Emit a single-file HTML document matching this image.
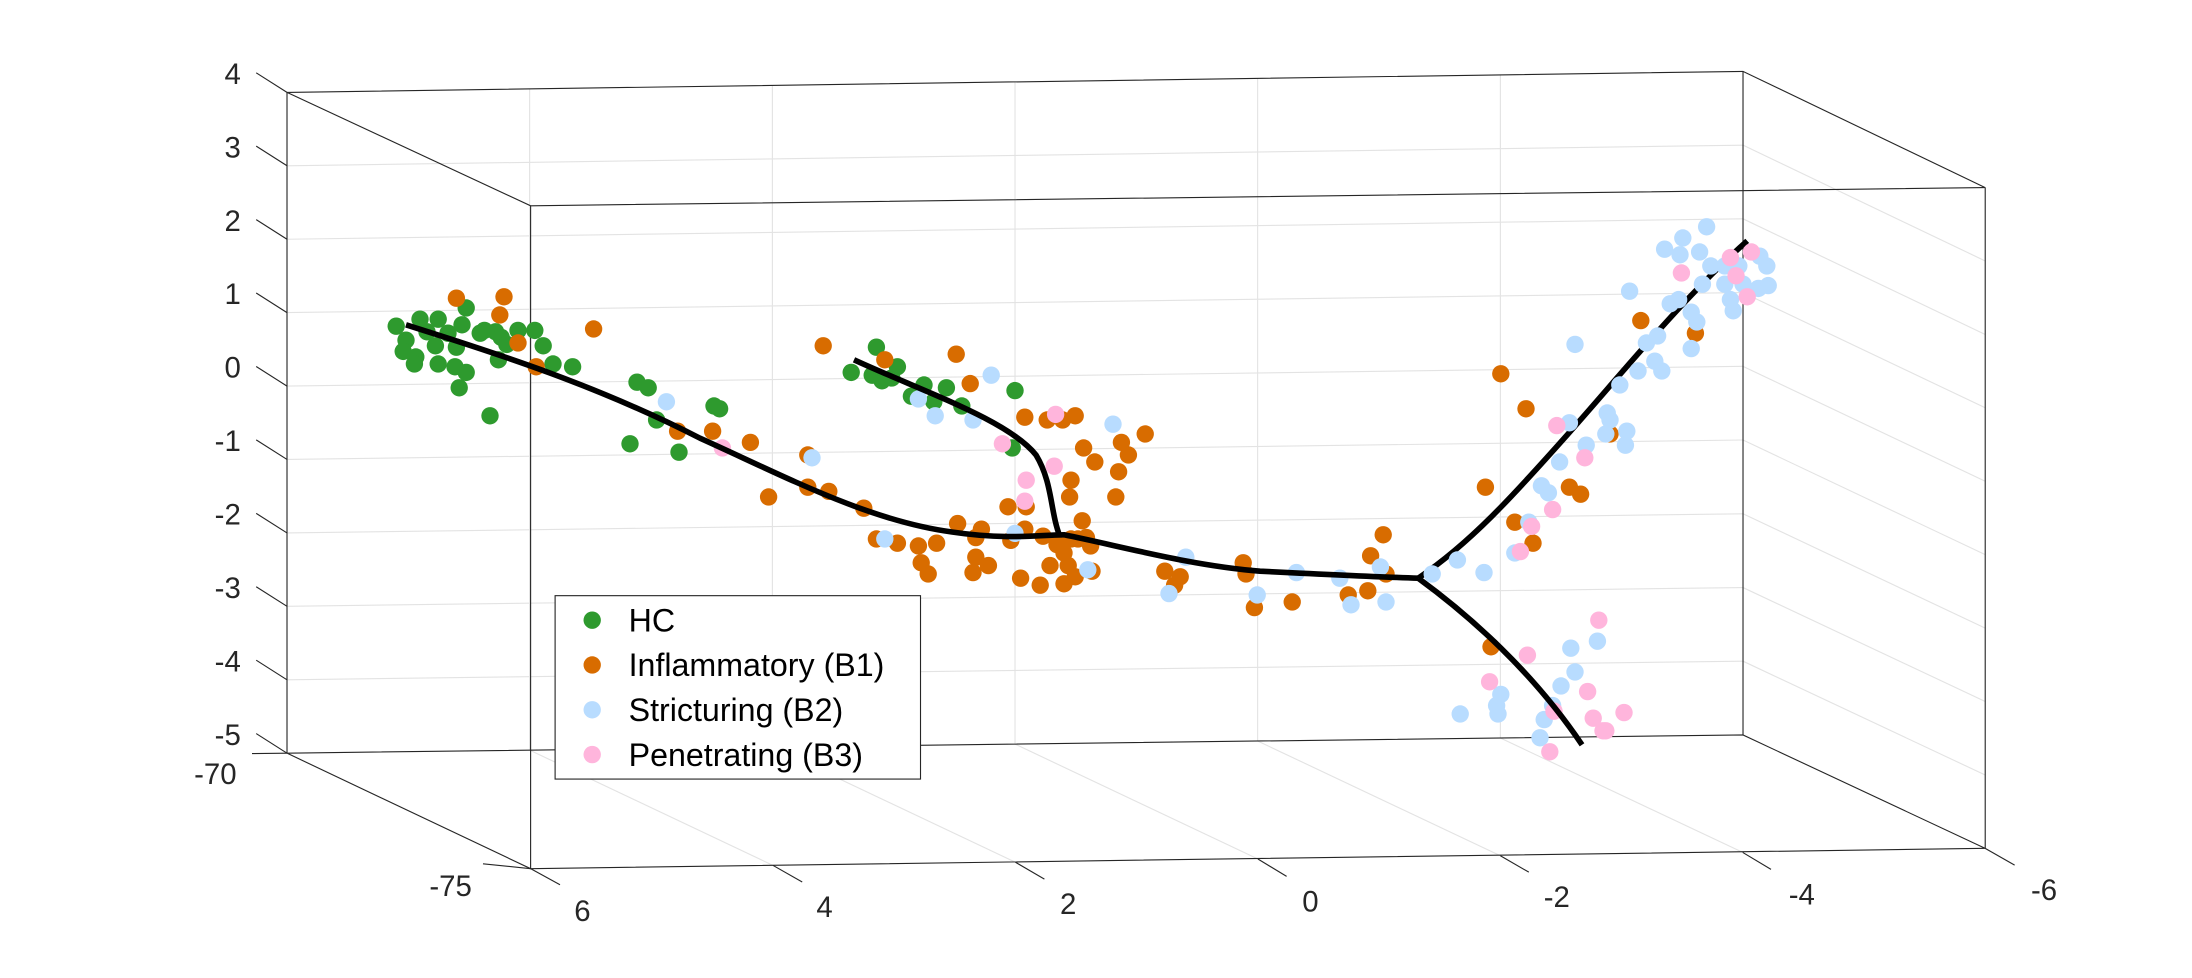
<!DOCTYPE html>
<html><head><meta charset="utf-8"><style>
html,body{margin:0;padding:0;background:#fff;}
svg{display:block}
text{font-family:"Liberation Sans",Arial,sans-serif;fill:#262626}
</style></head><body>
<svg width="2192" height="978" viewBox="0 0 1565.7 698.6" preserveAspectRatio="none" xmlns="http://www.w3.org/2000/svg">
<rect width="1565.7" height="698.6" fill="#fff"/>
<g stroke="#e3e3e3" stroke-width="0.8" fill="none">
<line x1="205" y1="118.4" x2="1245" y2="103.7"/>
<line x1="205" y1="170.9" x2="1245" y2="156.3"/>
<line x1="205" y1="223.3" x2="1245" y2="209"/>
<line x1="205" y1="275.8" x2="1245" y2="261.7"/>
<line x1="205" y1="328.2" x2="1245" y2="314.3"/>
<line x1="205" y1="380.7" x2="1245" y2="367"/>
<line x1="205" y1="433.1" x2="1245" y2="419.7"/>
<line x1="205" y1="485.6" x2="1245" y2="472.3"/>
<line x1="1245" y1="103.7" x2="1418" y2="186.4"/>
<line x1="1245" y1="156.3" x2="1418" y2="238.9"/>
<line x1="1245" y1="209" x2="1418" y2="291.3"/>
<line x1="1245" y1="261.7" x2="1418" y2="343.8"/>
<line x1="1245" y1="314.3" x2="1418" y2="396.2"/>
<line x1="1245" y1="367" x2="1418" y2="448.7"/>
<line x1="1245" y1="419.7" x2="1418" y2="501.1"/>
<line x1="1245" y1="472.3" x2="1418" y2="553.6"/>
<line x1="378.3" y1="63.5" x2="378.3" y2="535.8"/>
<line x1="551.7" y1="61" x2="551.7" y2="533.7"/>
<line x1="725" y1="58.6" x2="725" y2="531.5"/>
<line x1="898.3" y1="56.1" x2="898.3" y2="529.3"/>
<line x1="1071.7" y1="53.6" x2="1071.7" y2="527.2"/>
<line x1="378.3" y1="535.8" x2="552.2" y2="618.2"/>
<line x1="551.7" y1="533.7" x2="725.3" y2="615.9"/>
<line x1="725" y1="531.5" x2="898.5" y2="613.6"/>
<line x1="898.3" y1="529.3" x2="1071.7" y2="611.3"/>
<line x1="1071.7" y1="527.2" x2="1244.8" y2="608.9"/>
</g>
<g stroke="#262626" stroke-width="0.8" fill="none">
<polygon points="205,66 1245,51 1418,134 379,147"/>
<polygon points="205,538 1245,525 1418,606 379,620.5"/>
<line x1="205" y1="66" x2="205" y2="538"/>
<line x1="379" y1="147" x2="379" y2="620.5"/>
<line x1="1245" y1="51" x2="1245" y2="525"/>
<line x1="1418" y1="134" x2="1418" y2="606"/>
<line x1="205" y1="66" x2="183" y2="52"/><line x1="205" y1="118.4" x2="183" y2="104.4"/><line x1="205" y1="170.9" x2="183" y2="156.9"/><line x1="205" y1="223.3" x2="183" y2="209.3"/><line x1="205" y1="275.8" x2="183" y2="261.8"/><line x1="205" y1="328.2" x2="183" y2="314.2"/><line x1="205" y1="380.7" x2="183" y2="366.7"/><line x1="205" y1="433.1" x2="183" y2="419.1"/><line x1="205" y1="485.6" x2="183" y2="471.6"/><line x1="205" y1="538" x2="183" y2="524"/>
<line x1="379" y1="620.5" x2="400" y2="632"/>
<line x1="552.2" y1="618.2" x2="573" y2="630"/>
<line x1="725.3" y1="615.9" x2="746" y2="628"/>
<line x1="898.5" y1="613.6" x2="919" y2="626"/>
<line x1="1071.7" y1="611.3" x2="1092" y2="623"/>
<line x1="1244.8" y1="608.9" x2="1265" y2="621"/>
<line x1="1418" y1="606" x2="1439" y2="618"/>
<line x1="205" y1="538" x2="180" y2="538.3"/>
<line x1="379" y1="620.5" x2="345" y2="617"/>
</g>
<g font-size="21" text-anchor="end">
<text x="172" y="60">4</text><text x="172" y="112.4">3</text><text x="172" y="164.9">2</text><text x="172" y="217.3">1</text><text x="172" y="269.8">0</text><text x="172" y="322.2">-1</text><text x="172" y="374.7">-2</text><text x="172" y="427.1">-3</text><text x="172" y="479.6">-4</text><text x="172" y="532">-5</text>
<text x="169" y="560">-70</text><text x="337" y="640">-75</text>
</g>
<g font-size="21" text-anchor="middle">
<text x="416" y="658">6</text><text x="589" y="655">4</text><text x="763" y="653">2</text><text x="936" y="651">0</text><text x="1112" y="648">-2</text><text x="1287" y="646">-4</text><text x="1460" y="643">-6</text>
</g>
<path d="M1013,413 C1050,388 1080,355 1120,310 C1160,265 1200,215 1248,172" stroke="#000" stroke-width="4" fill="none"/>
<g fill="#2e9a2e">
<circle cx="283" cy="233" r="6.2"/><circle cx="290" cy="243" r="6.2"/><circle cx="288" cy="251" r="6.2"/><circle cx="297" cy="255" r="6.2"/><circle cx="300" cy="228" r="6.2"/><circle cx="305" cy="237" r="6.2"/><circle cx="313" cy="228" r="6.2"/><circle cx="320" cy="238" r="6.2"/><circle cx="311" cy="247" r="6.2"/><circle cx="326" cy="248" r="6.2"/><circle cx="333" cy="220" r="6.2"/><circle cx="330" cy="232" r="6.2"/><circle cx="343" cy="238" r="6.2"/><circle cx="346" cy="236" r="6.2"/><circle cx="354" cy="237" r="6.2"/><circle cx="358" cy="241" r="6.2"/><circle cx="362" cy="246" r="6.2"/><circle cx="356" cy="257" r="6.2"/><circle cx="325" cy="262" r="6.2"/><circle cx="328" cy="277" r="6.2"/><circle cx="333" cy="266" r="6.2"/><circle cx="350" cy="297" r="6.2"/><circle cx="296" cy="260" r="6.2"/><circle cx="313" cy="260" r="6.2"/><circle cx="370" cy="236" r="6.2"/><circle cx="382" cy="236" r="6.2"/><circle cx="388" cy="247" r="6.2"/><circle cx="395" cy="260" r="6.2"/><circle cx="409" cy="262" r="6.2"/><circle cx="455" cy="273" r="6.2"/><circle cx="463" cy="277" r="6.2"/><circle cx="469" cy="300" r="6.2"/><circle cx="450" cy="317" r="6.2"/><circle cx="485" cy="323" r="6.2"/><circle cx="510" cy="290" r="6.2"/><circle cx="514" cy="292" r="6.2"/><circle cx="608" cy="266" r="6.2"/><circle cx="626" cy="248" r="6.2"/><circle cx="623" cy="268" r="6.2"/><circle cx="630" cy="272" r="6.2"/><circle cx="637" cy="270" r="6.2"/><circle cx="641" cy="262" r="6.2"/><circle cx="651" cy="283" r="6.2"/><circle cx="660" cy="275" r="6.2"/><circle cx="667" cy="287" r="6.2"/><circle cx="676" cy="277" r="6.2"/><circle cx="687" cy="290" r="6.2"/><circle cx="725" cy="279" r="6.2"/><circle cx="723" cy="320" r="6.2"/>
</g>
<g fill="#d86c00">
<circle cx="326" cy="213" r="6.2"/><circle cx="360" cy="212" r="6.2"/><circle cx="357" cy="225" r="6.2"/><circle cx="370" cy="245" r="6.2"/><circle cx="383" cy="262" r="6.2"/><circle cx="424" cy="235" r="6.2"/><circle cx="484" cy="308" r="6.2"/><circle cx="509" cy="308" r="6.2"/><circle cx="536" cy="316" r="6.2"/><circle cx="549" cy="355" r="6.2"/><circle cx="577" cy="325" r="6.2"/><circle cx="577" cy="348" r="6.2"/><circle cx="592" cy="351" r="6.2"/><circle cx="588" cy="247" r="6.2"/><circle cx="632" cy="257" r="6.2"/><circle cx="683" cy="253" r="6.2"/><circle cx="693" cy="274" r="6.2"/><circle cx="617" cy="363" r="6.2"/><circle cx="626" cy="385" r="6.2"/><circle cx="641" cy="388" r="6.2"/><circle cx="656" cy="390" r="6.2"/><circle cx="669" cy="388" r="6.2"/><circle cx="658" cy="402" r="6.2"/><circle cx="663" cy="410" r="6.2"/><circle cx="684" cy="374" r="6.2"/><circle cx="697" cy="384" r="6.2"/><circle cx="701" cy="378" r="6.2"/><circle cx="706" cy="404" r="6.2"/><circle cx="697" cy="398" r="6.2"/><circle cx="720" cy="362" r="6.2"/><circle cx="722" cy="386" r="6.2"/><circle cx="732" cy="378" r="6.2"/><circle cx="733" cy="362" r="6.2"/><circle cx="745" cy="383" r="6.2"/><circle cx="750" cy="404" r="6.2"/><circle cx="755" cy="389" r="6.2"/><circle cx="760" cy="395" r="6.2"/><circle cx="763" cy="404" r="6.2"/><circle cx="765" cy="385" r="6.2"/><circle cx="770" cy="385" r="6.2"/><circle cx="776" cy="384" r="6.2"/><circle cx="779" cy="390" r="6.2"/><circle cx="773" cy="372" r="6.2"/><circle cx="768" cy="412" r="6.2"/><circle cx="743" cy="418" r="6.2"/><circle cx="760" cy="417" r="6.2"/><circle cx="729" cy="413" r="6.2"/><circle cx="780" cy="408" r="6.2"/><circle cx="764" cy="355" r="6.2"/><circle cx="797" cy="355" r="6.2"/><circle cx="759" cy="300" r="6.2"/><circle cx="768" cy="297" r="6.2"/><circle cx="748" cy="300" r="6.2"/><circle cx="774" cy="320" r="6.2"/><circle cx="782" cy="330" r="6.2"/><circle cx="799" cy="337" r="6.2"/><circle cx="801" cy="316" r="6.2"/><circle cx="806" cy="325" r="6.2"/><circle cx="818" cy="310" r="6.2"/><circle cx="732" cy="298" r="6.2"/><circle cx="765" cy="343" r="6.2"/><circle cx="832" cy="408" r="6.2"/><circle cx="839" cy="418" r="6.2"/><circle cx="843" cy="412" r="6.2"/><circle cx="888" cy="402" r="6.2"/><circle cx="890" cy="410" r="6.2"/><circle cx="896" cy="434" r="6.2"/><circle cx="923" cy="430" r="6.2"/><circle cx="963" cy="425" r="6.2"/><circle cx="979" cy="397" r="6.2"/><circle cx="988" cy="382" r="6.2"/><circle cx="990" cy="410" r="6.2"/><circle cx="977" cy="422" r="6.2"/><circle cx="1072" cy="267" r="6.2"/><circle cx="1090" cy="292" r="6.2"/><circle cx="1061" cy="348" r="6.2"/><circle cx="1082" cy="373" r="6.2"/><circle cx="1095" cy="388" r="6.2"/><circle cx="1121" cy="348" r="6.2"/><circle cx="1129" cy="353" r="6.2"/><circle cx="1172" cy="229" r="6.2"/><circle cx="1211" cy="238" r="6.2"/><circle cx="1150" cy="310" r="6.2"/><circle cx="1065" cy="462" r="6.2"/><circle cx="695" cy="409" r="6.2"/>
</g>
<g fill="#b8dcff">
<circle cx="476" cy="287" r="6.2"/><circle cx="580" cy="327" r="6.2"/><circle cx="632" cy="385" r="6.2"/><circle cx="656" cy="285" r="6.2"/><circle cx="668" cy="297" r="6.2"/><circle cx="695" cy="300" r="6.2"/><circle cx="708" cy="268" r="6.2"/><circle cx="795" cy="303" r="6.2"/><circle cx="777" cy="407" r="6.2"/><circle cx="725" cy="381" r="6.2"/><circle cx="835" cy="424" r="6.2"/><circle cx="847" cy="398" r="6.2"/><circle cx="898" cy="425" r="6.2"/><circle cx="926" cy="409" r="6.2"/><circle cx="957" cy="413" r="6.2"/><circle cx="965" cy="432" r="6.2"/><circle cx="986" cy="405" r="6.2"/><circle cx="990" cy="430" r="6.2"/><circle cx="1023" cy="410" r="6.2"/><circle cx="1041" cy="400" r="6.2"/><circle cx="1060" cy="409" r="6.2"/><circle cx="1043" cy="510" r="6.2"/><circle cx="1069" cy="504" r="6.2"/><circle cx="1072" cy="496" r="6.2"/><circle cx="1070" cy="510" r="6.2"/><circle cx="1109" cy="504" r="6.2"/><circle cx="1115" cy="490" r="6.2"/><circle cx="1122" cy="463" r="6.2"/><circle cx="1125" cy="480" r="6.2"/><circle cx="1141" cy="458" r="6.2"/><circle cx="1082" cy="395" r="6.2"/><circle cx="1092" cy="373" r="6.2"/><circle cx="1101" cy="347" r="6.2"/><circle cx="1106" cy="352" r="6.2"/><circle cx="1114" cy="330" r="6.2"/><circle cx="1121" cy="302" r="6.2"/><circle cx="1133" cy="318" r="6.2"/><circle cx="1147" cy="310" r="6.2"/><circle cx="1148" cy="295" r="6.2"/><circle cx="1150" cy="300" r="6.2"/><circle cx="1161" cy="318" r="6.2"/><circle cx="1162" cy="308" r="6.2"/><circle cx="1157" cy="275" r="6.2"/><circle cx="1170" cy="265" r="6.2"/><circle cx="1176" cy="245" r="6.2"/><circle cx="1184" cy="240" r="6.2"/><circle cx="1187" cy="265" r="6.2"/><circle cx="1193" cy="217" r="6.2"/><circle cx="1199" cy="214" r="6.2"/><circle cx="1208" cy="249" r="6.2"/><circle cx="1208" cy="223" r="6.2"/><circle cx="1216" cy="203" r="6.2"/><circle cx="1212" cy="230" r="6.2"/><circle cx="1200" cy="182" r="6.2"/><circle cx="1189" cy="178" r="6.2"/><circle cx="1202" cy="170" r="6.2"/><circle cx="1219" cy="162" r="6.2"/><circle cx="1214" cy="180" r="6.2"/><circle cx="1236" cy="214" r="6.2"/><circle cx="1238" cy="222" r="6.2"/><circle cx="1257" cy="183" r="6.2"/><circle cx="1262" cy="190" r="6.2"/><circle cx="1256" cy="206" r="6.2"/><circle cx="1263" cy="204" r="6.2"/><circle cx="1245" cy="203" r="6.2"/><circle cx="1232" cy="203" r="6.2"/><circle cx="1242" cy="190" r="6.2"/><circle cx="1125" cy="246" r="6.2"/><circle cx="1164" cy="208" r="6.2"/><circle cx="1182" cy="258" r="6.2"/><circle cx="1232" cy="190" r="6.2"/><circle cx="1222" cy="190" r="6.2"/><circle cx="1100" cy="527" r="6.2"/><circle cx="1103" cy="514" r="6.2"/>
</g>
<g fill="#ffb5dc">
<circle cx="516" cy="320" r="6.2"/><circle cx="754" cy="296" r="6.2"/><circle cx="716" cy="317" r="6.2"/><circle cx="733" cy="343" r="6.2"/><circle cx="753" cy="333" r="6.2"/><circle cx="732" cy="358" r="6.2"/><circle cx="1112" cy="304" r="6.2"/><circle cx="1132" cy="327" r="6.2"/><circle cx="1109" cy="364" r="6.2"/><circle cx="1094" cy="376" r="6.2"/><circle cx="1086" cy="394" r="6.2"/><circle cx="1091" cy="468" r="6.2"/><circle cx="1064" cy="487" r="6.2"/><circle cx="1110" cy="508" r="6.2"/><circle cx="1107" cy="537" r="6.2"/><circle cx="1134" cy="494" r="6.2"/><circle cx="1138" cy="513" r="6.2"/><circle cx="1145" cy="522" r="6.2"/><circle cx="1160" cy="509" r="6.2"/><circle cx="1147" cy="522" r="6.2"/><circle cx="1142" cy="443" r="6.2"/><circle cx="1201" cy="195" r="6.2"/><circle cx="1248" cy="212" r="6.2"/><circle cx="1240" cy="197" r="6.2"/><circle cx="1251" cy="180" r="6.2"/><circle cx="1236" cy="184" r="6.2"/>
</g>
<g stroke="#000" stroke-width="4" fill="none" stroke-linejoin="round">
<path d="M290,232 C340,248 420,272 500,313 C560,340 620,372 680,380 C720,386 745,382 760,382 C800,390 850,404 900,408 C940,410 980,412 1013,413"/>
<path d="M610,257 C660,280 720,300 740,325 C752,345 750,365 757,383"/>
<path d="M1013,413 C1050,440 1095,480 1130,532"/>
</g>
<rect x="396.5" y="425.5" width="261" height="131" fill="#fff" stroke="#262626" stroke-width="0.8"/>
<circle cx="423" cy="443" r="6.2" fill="#2e9a2e"/>
<circle cx="423" cy="475" r="6.2" fill="#d86c00"/>
<circle cx="423" cy="507" r="6.2" fill="#b8dcff"/>
<circle cx="423" cy="539" r="6.2" fill="#ffb5dc"/>
<g font-size="23">
<text x="449" y="451" style="fill:#000">HC</text>
<text x="449" y="483" style="fill:#000">Inflammatory (B1)</text>
<text x="449" y="515" style="fill:#000">Stricturing (B2)</text>
<text x="449" y="547" style="fill:#000">Penetrating (B3)</text>
</g>
</svg>
</body></html>
